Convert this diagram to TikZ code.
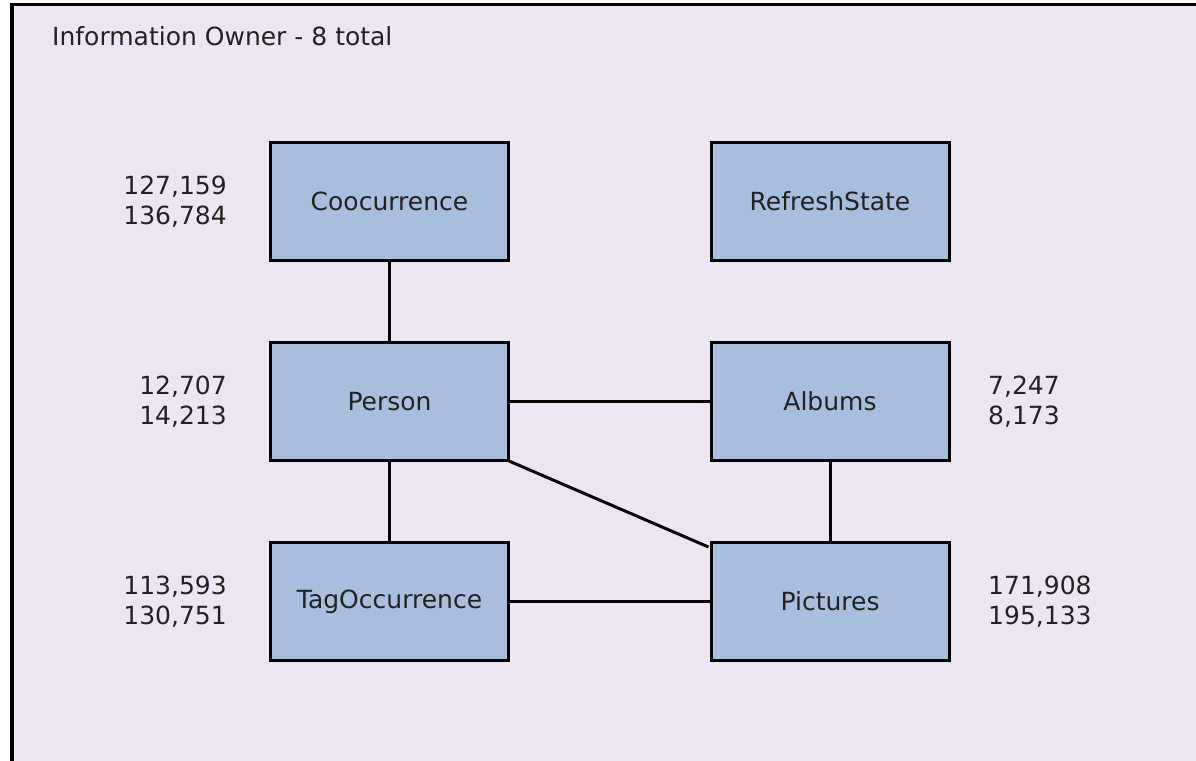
\documentclass[tikz,border=0pt]{standalone}
\usepackage{fontspec}
\setmainfont{DejaVu Sans}
\definecolor{bgc}{HTML}{ECE6F2}
\definecolor{boxc}{HTML}{A9BEDC}
\definecolor{txtc}{HTML}{222222}
\begin{document}
\begin{tikzpicture}[x=1pt,y=-1pt,
  entity/.style={draw=black,fill=boxc,line width=3pt,minimum width=238pt,minimum height=118pt,inner sep=0pt,text=txtc,font=\fontsize{25}{30}\selectfont},
  count/.style={text=txtc,font=\fontsize{25}{30}\selectfont,inner sep=0pt,align=#1},
  link/.style={line width=3pt,draw=black}]
\useasboundingbox (0,0) rectangle (1196,760);
\fill[white] (0,0) rectangle (1196,760);
\fill[bgc] (10,3) rectangle (1200,765);
\draw[line width=3.5pt] (11.75,770) -- (11.75,4.75) -- (1205,4.75);
\node[anchor=base west,text=txtc,font=\fontsize{25}{30}\selectfont,inner sep=0pt] (title) at (52,46) {Information Owner - 8 total};
\node[entity] (cooc) at (389.5,201.5) {Coocurrence};
\node[entity] (refresh) at (830,201.5) {RefreshState};
\node[entity] (person) at (389.5,401.5) {Person};
\node[entity] (albums) at (830,401.5) {Albums};
\node[entity] (tag) at (389.5,601.5) {TagOccurrence};
\node[entity] (pics) at (830,601.5) {Pictures};
\node[count=right,anchor=east] (ncooc) at (227,201.5) {127,159\\136,784};
\node[count=right,anchor=east] (nperson) at (227,401.5) {12,707\\14,213};
\node[count=right,anchor=east] (ntag) at (227,601.5) {113,593\\130,751};
\node[count=left,anchor=west] (nalbums) at (988,401.5) {7,247\\8,173};
\node[count=left,anchor=west] (npics) at (988,601.5) {171,908\\195,133};
\draw[link] (cooc.south) -- (person.north);
\draw[link] (person.east) -- (albums.west);
\draw[link] (person.south) -- (tag.north);
\draw[link] (albums.south) -- (pics.north);
\draw[link] (tag.east) -- (pics.west);
\draw[link] ([xshift=-1pt,yshift=1pt]person.south east) -- ([xshift=-1pt,yshift=-6pt]pics.north west);
\end{tikzpicture}
\end{document}
